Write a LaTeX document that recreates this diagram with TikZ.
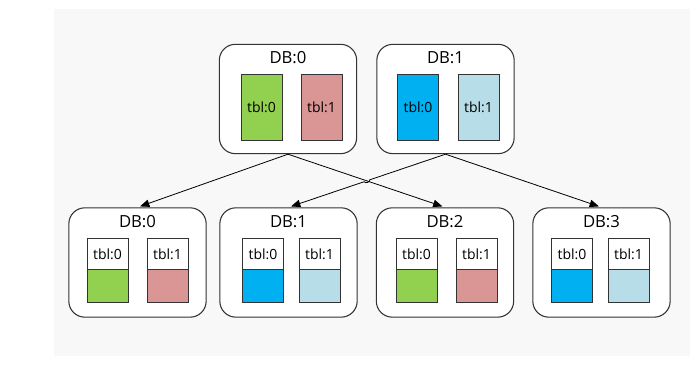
\documentclass[tikz,border=0pt]{standalone}
\usepackage{fontspec}
\setmainfont{Open Sans}
\usepackage{tikz}
\usetikzlibrary{arrows.meta,calc}

\definecolor{grn}{HTML}{92D050}
\definecolor{rd}{HTML}{DA9694}
\definecolor{blu}{HTML}{00B0F0}
\definecolor{lblu}{HTML}{B7DEE8}
\definecolor{bg}{HTML}{F8F8F8}
\definecolor{edge}{HTML}{333333}

\tikzset{
  dbbox/.style={draw=edge, line width=0.8pt, fill=white, rounded corners=12pt, minimum width=103pt, minimum height=82pt, inner sep=0pt},
  dbtitle/.style={inner sep=0.75pt, font=\fontsize{12.5}{14}\selectfont},
  tblfull/.style={draw=edge, line width=0.6pt, minimum width=30.75pt, minimum height=49.5pt, inner sep=0pt, font=\fontsize{10.5}{12}\selectfont},
  tblhead/.style={draw=edge, line width=0.6pt, fill=white, minimum width=30.75pt, minimum height=24pt, inner sep=0pt, font=\fontsize{10.5}{12}\selectfont},
  tblfill/.style={draw=edge, line width=0.6pt, minimum width=30.75pt, minimum height=24.75pt, inner sep=0pt},
  link/.style={line width=0.6pt, -{Triangle[length=7pt,width=5.5pt]}, shorten >=2pt}
}

\begin{document}
\begin{tikzpicture}[x=0.75pt,y=0.75pt,yscale=-1,xscale=1]

    \useasboundingbox (0,0) rectangle (694,366);
    \fill [bg] (54,9) rectangle (690,356);

    % source
    \node [dbbox] (src0) at (288,99) {};
    \node [dbbox] (src1) at (445.5,99) {};
    \node [dbtitle] (src0t) at (288,58) {DB:0};
    \node [dbtitle] (src1t) at (445.5,58) {DB:1};
    \node [tblfull, fill=grn] (s0a) at (261.5,107) {tbl:0};
    \node [tblfull, fill=rd] (s0b) at (321.5,107) {tbl:1};
    \node [tblfull, fill=blu] (s1a) at (418,107) {tbl:0};
    \node [tblfull, fill=lblu] (s1b) at (478.5,107) {tbl:1};

    % target
    \node [dbbox] (dst0) at (137.5,262.5) {};
    \node [dbbox] (dst1) at (288.5,262.5) {};
    \node [dbbox] (dst2) at (445,262.5) {};
    \node [dbbox] (dst3) at (601.5,262.5) {};
    \node [dbtitle] (dst0t) at (137.5,222) {DB:0};
    \node [dbtitle] (dst1t) at (288.5,222) {DB:1};
    \node [dbtitle] (dst2t) at (445,222) {DB:2};
    \node [dbtitle] (dst3t) at (601.5,222) {DB:3};

    \node [tblhead] (d0a) at (107.5,254) {tbl:0};
    \node [tblfill, fill=grn] (d0af) at (107.5,285.5) {};
    \node [tblhead] (d0b) at (167.5,254) {tbl:1};
    \node [tblfill, fill=rd] (d0bf) at (167.5,285.5) {};

    \node [tblhead] (d1a) at (263,254) {tbl:0};
    \node [tblfill, fill=blu] (d1af) at (263,285.5) {};
    \node [tblhead] (d1b) at (319.5,254) {tbl:1};
    \node [tblfill, fill=lblu] (d1bf) at (319.5,285.5) {};

    \node [tblhead] (d2a) at (416.5,254) {tbl:0};
    \node [tblfill, fill=grn] (d2af) at (416.5,285.5) {};
    \node [tblhead] (d2b) at (476.5,254) {tbl:1};
    \node [tblfill, fill=rd] (d2bf) at (476.5,285.5) {};

    \node [tblhead] (d3a) at (572,254) {tbl:0};
    \node [tblfill, fill=blu] (d3af) at (572,285.5) {};
    \node [tblhead] (d3b) at (628.5,254) {tbl:1};
    \node [tblfill, fill=lblu] (d3bf) at (628.5,285.5) {};

    % links
    \draw [link] (src0.south) -- (dst0.north);
    \draw [link] (src0.south) -- (dst2.north);
    \draw [link] (src1.south) -- ($(src1.south)!0.482!(dst1.north)$) to [bend right=90] ($(src1.south)!0.518!(dst1.north)$) -- (dst1.north);
    \draw [link] (src1.south) -- (dst3.north);

\end{tikzpicture}
\end{document}
